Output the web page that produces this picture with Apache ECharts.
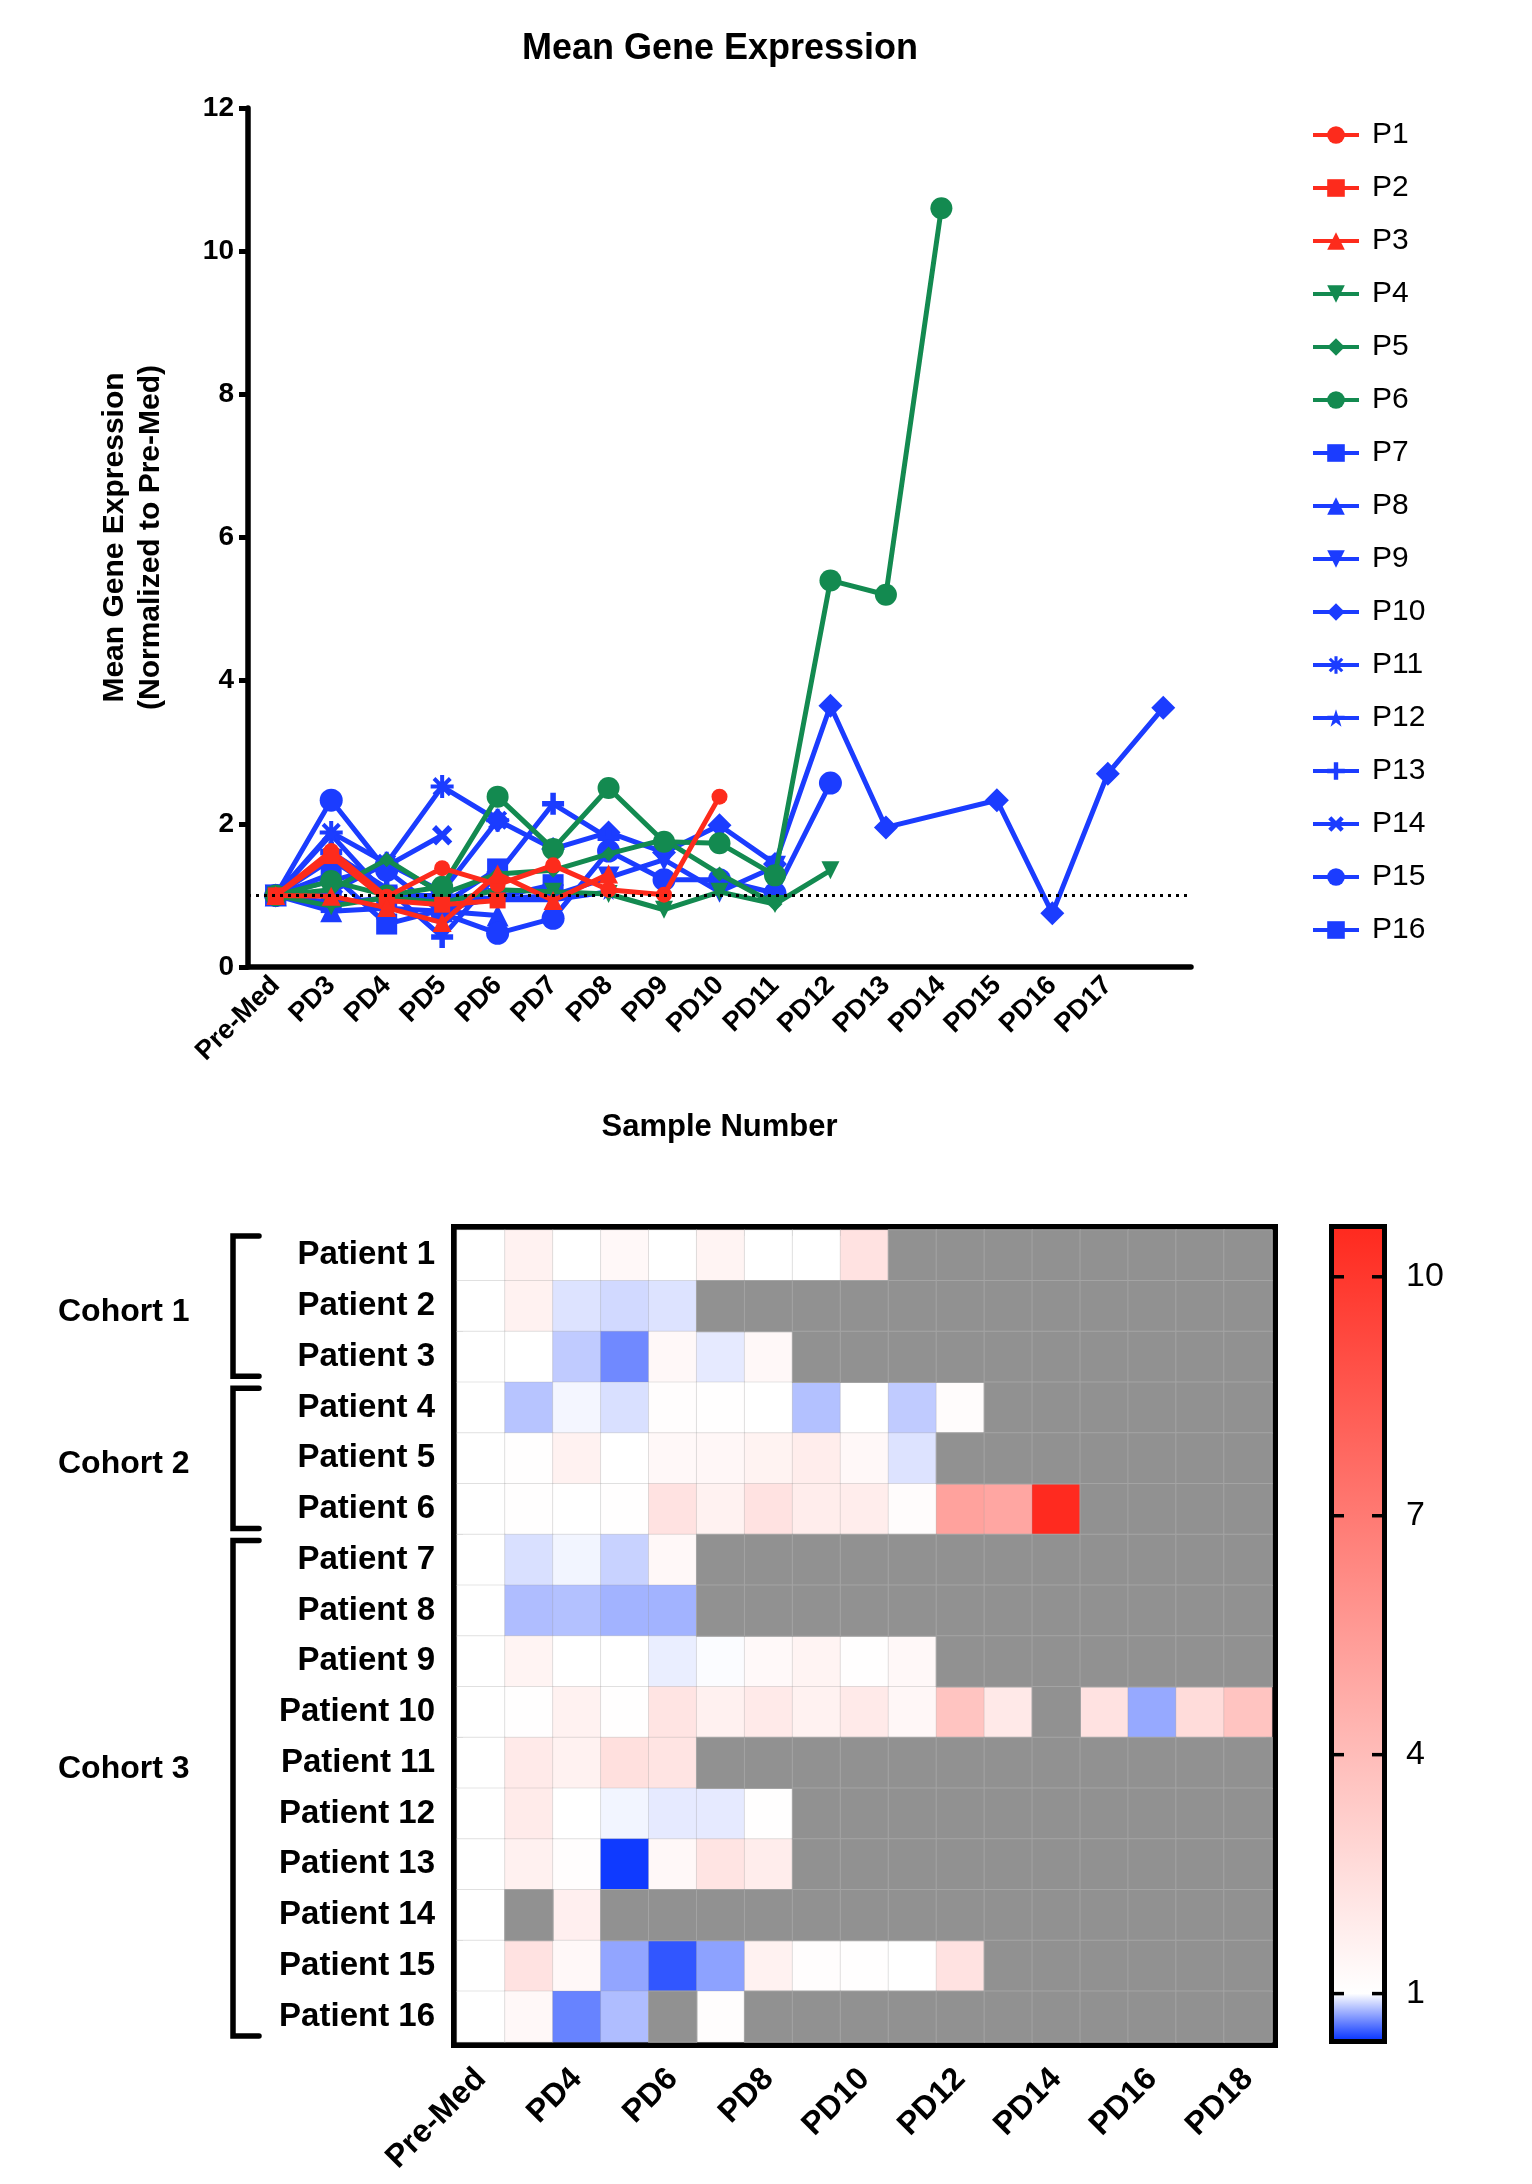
<!DOCTYPE html>
<html><head><meta charset="utf-8">
<script src="https://cdn.jsdelivr.net/npm/echarts@6/dist/echarts.min.js"></script>
<style>html,body{margin:0;padding:0;background:#fff}#c{width:1532px;height:2184px}</style>
</head><body><div id="c"></div>
<script>
// ---------------- DATA ----------------
const lineCategories = ['Pre-Med','PD3','PD4','PD5','PD6','PD7','PD8','PD9','PD10','PD11','PD12','PD13','PD14','PD15','PD16','PD17',''];
const heatCategories = ['Pre-Med','PD3','PD4','PD5','PD6','PD7','PD8','PD9','PD10','PD11','PD12','PD13','PD14','PD15','PD16','PD17','PD18'];
const seriesNames = ['P1','P2','P3','P4','P5','P6','P7','P8','P9','P10','P11','P12','P13','P14','P15','P16'];
const patients = ['Patient 1','Patient 2','Patient 3','Patient 4','Patient 5','Patient 6','Patient 7','Patient 8',
  'Patient 9','Patient 10','Patient 11','Patient 12','Patient 13','Patient 14','Patient 15','Patient 16'];
const yTicks = [0, 2, 4, 6, 8, 10, 12];
const baseline = 1;

// line chart values (mean expression normalised to Pre-Med)
const lineP1  = [1, 1.62, 0.98, 1.38, 1.15, 1.42, 1.08, 1.01, 2.38];
const lineP2  = [1, 1.55, 0.93, 0.87, 0.93];
const lineP3  = [1, 0.99, 0.83, 0.62, 1.3, 0.93, 1.3];
const lineP4  = [1, 0.85, 0.97, 0.9, 1.08, 1.05, 1.02, 0.8, 1.05, 0.88, 1.35];
const lineP5  = [1, 1.08, 1.5, 1.02, 1.3, 1.35, 1.58, 1.78, 1.3, 0.88];
const lineP6  = [1, 1.2, 1.0, 1.12, 2.38, 1.65, 2.5, 1.75, 1.73, 1.28, 5.4, 5.2, 10.6];
const lineP7  = [1, 0.9, 0.96, 0.87, 1.37];
const lineP8  = [1, 0.78, 0.82, 0.78, 0.72];
const lineP9  = [1, 1.5, 1.0, 1.0, 0.95, 1.0, 1.25, 1.5, 1.05, 1.4];
const lineP10 = [1, 1.05, 1.45, 1.05, 2.05, 1.65, 1.88, 1.6, 1.98, 1.44, 3.65, 1.95, null, 2.33, 0.75, 2.7, 3.62];
const lineP11 = [1, 1.88, 1.45, 2.52, 2.05];
const lineP12 = [1, 1.85, 1.0, 0.97, 0.94, 0.94, 1.05];
const lineP13 = [1, 1.6, 1.1, 0.42, 1.3, 2.28, 1.8];
const lineP14 = [1, null, 1.41, 1.84];
const lineP15 = [1, 2.33, 1.35, 0.75, 0.47, 0.68, 1.62, 1.22, 1.22, 1.03, 2.57];
const lineP16 = [1, 1.3, 0.6, 0.8, null, 1.15];

// heatmap values (null = no sample)
const heatP1  = [1, 1.6, 1.02, 1.3, 1.0, 1.5, 1.02, 1.02, 2.3];
const heatP2  = [1, 1.6, 0.92, 0.89, 0.92];
const heatP3  = [1, 1.0, 0.85, 0.66, 1.3, 0.94, 1.3];
const heatP4  = [1, 0.83, 0.975, 0.91, 1.1, 1.05, 1.0, 0.82, 1.0, 0.85, 1.15];
const heatP5  = [1, 1.05, 1.6, 1.0, 1.3, 1.35, 1.55, 1.8, 1.3, 0.92];
const heatP6  = [1, 1.05, 1.0, 1.03, 2.3, 1.6, 2.3, 1.8, 1.8, 1.15, 5.2, 5.0, 10.6];
const heatP7  = [1, 0.91, 0.97, 0.87, 1.3];
const heatP8  = [1, 0.81, 0.82, 0.78, 0.78];
const heatP9  = [1, 1.5, 1.0, 1.0, 0.95, 0.99, 1.25, 1.5, 1.05, 1.3];
const heatP10 = [1, 1.05, 1.6, 1.05, 2.2, 1.65, 1.95, 1.6, 1.95, 1.35, 3.65, 2.0, null, 2.3, 0.75, 2.6, 3.65];
const heatP11 = [1, 1.95, 1.6, 2.4, 2.2];
const heatP12 = [1, 1.9, 1.0, 0.97, 0.94, 0.94, 1.05];
const heatP13 = [1, 1.65, 1.1, 0.43, 1.3, 2.2, 1.8];
const heatP14 = [1, null, 1.7];
const heatP15 = [1, 2.3, 1.3, 0.74, 0.51, 0.73, 1.6, 1.1, 1.05, 1.02, 2.3];
const heatP16 = [1, 1.3, 0.64, 0.81, null, 1.1];

const colorbarRange = [0.43, 10.6];
const colorbarTicks = [1, 4, 7, 10];

const cohortNames = ['Cohort 1', 'Cohort 2', 'Cohort 3'];
const cohortFirstRow = [0, 3, 6];
const cohortLastRow = [2, 5, 15];
const cohortLabelRow = [1, 4, 10];

// ---------------- STYLE ----------------
const RED = '#fd2b1c', GREEN = '#138a50', BLUE = '#1b3cff';
const RED_END = [255, 42, 31], BLUE_END = [15, 58, 255];
const FONT = "'Liberation Sans', Arial, Helvetica, sans-serif";
const PLUS = 'path://M3,0H5V3H8V5H5V8H3V5H0V3H3Z';
const STAR = 'path://M5,0L6.18,3.5H10L6.9,5.7L8.1,9.5L5,7.2L1.9,9.5L3.1,5.7L0,3.5H3.82Z';
const ASTER = 'path://M3.3,0H4.7V3.3H8V4.7H4.7V8H3.3V4.7H0V3.3H3.3Z M6.333,0.677L7.323,1.667L4.99,4L7.323,6.333L6.333,7.323L4,4.99L1.667,7.323L0.677,6.333L3.01,4L0.677,1.667L1.667,0.677L4,3.01Z';
const styles = [
  {color: RED, symbol: 'circle', size: 16, z: 4},
  {color: RED, symbol: 'rect', size: 16, z: 4},
  {color: RED, symbol: 'triangle', size: 19, z: 4},
  {color: GREEN, symbol: 'triangle', size: 18, rotate: 180, z: 3},
  {color: GREEN, symbol: 'diamond', size: 15, z: 3},
  {color: GREEN, symbol: 'circle', size: 22, z: 3},
  {color: BLUE, symbol: 'rect', size: 21, z: 2},
  {color: BLUE, symbol: 'triangle', size: 22, z: 2},
  {color: BLUE, symbol: 'triangle', size: 22, rotate: 180, z: 2},
  {color: BLUE, symbol: 'diamond', size: 24, z: 2},
  {color: BLUE, symbol: ASTER, size: 23, z: 2},
  {color: BLUE, symbol: STAR, size: 17, z: 2},
  {color: BLUE, symbol: PLUS, size: 22, z: 2},
  {color: BLUE, symbol: PLUS, size: 23, rotate: 45, z: 2},
  {color: BLUE, symbol: 'circle', size: 23, z: 2},
  {color: BLUE, symbol: 'rect', size: 21, z: 2}
];

const lineData = [lineP1, lineP2, lineP3, lineP4, lineP5, lineP6, lineP7, lineP8,
  lineP9, lineP10, lineP11, lineP12, lineP13, lineP14, lineP15, lineP16];
const heatData = [heatP1, heatP2, heatP3, heatP4, heatP5, heatP6, heatP7, heatP8,
  heatP9, heatP10, heatP11, heatP12, heatP13, heatP14, heatP15, heatP16];

function mix(a, b, t) {
  return 'rgb(' + a.map((x, i) => Math.round(x + (b[i] - x) * t)).join(',') + ')';
}
function cellColor(v) {
  const lo = colorbarRange[0], hi = colorbarRange[1];
  if (v <= 1) return mix([255, 255, 255], BLUE_END, Math.min(1, (1 - v) / (1 - lo)));
  return mix([255, 255, 255], RED_END, Math.min(1, (v - 1) / (hi - 1)));
}

const cells = [], missing = [];
heatData.forEach((row, r) => {
  heatCategories.forEach((c, k) => {
    const v = row[k];
    if (typeof v === 'number') cells.push({value: [k, r, v], itemStyle: {color: cellColor(v)}});
    else missing.push([k, r, 0]);
  });
});

const series = seriesNames.map((name, i) => ({
  name: name, type: 'line', xAxisIndex: 0, yAxisIndex: 0,
  data: lineData[i], connectNulls: true,
  symbol: styles[i].symbol, symbolSize: styles[i].size, symbolRotate: styles[i].rotate || 0,
  symbolKeepAspect: true,
  lineStyle: {color: styles[i].color, width: 5},
  itemStyle: {color: styles[i].color},
  z: styles[i].z, emphasis: {disabled: true}
}));
series[9].markLine = {
  silent: true, symbol: 'none', label: {show: false},
  lineStyle: {type: [3, 5], width: 3, color: '#000'},
  data: [{yAxis: baseline}]
};
series.push({
  type: 'heatmap', xAxisIndex: 1, yAxisIndex: 1, data: cells,
  itemStyle: {borderColor: 'rgba(150,150,150,0.25)', borderWidth: 1},
  emphasis: {disabled: true}
});
series.push({
  type: 'heatmap', xAxisIndex: 1, yAxisIndex: 1, data: missing,
  itemStyle: {color: '#919191', borderColor: '#a4a4a4', borderWidth: 1},
  emphasis: {disabled: true}
});
// colour bar: gradient + inner ticks, drawn through the colour-bar axis scale
series.push({
  type: 'custom', xAxisIndex: 2, yAxisIndex: 2,
  data: [[0, colorbarRange[0], 1, colorbarRange[1]]],
  encode: {x: [0, 2], y: [1, 3]},
  renderItem: function (params, api) {
    const a = api.coord([api.value(0), api.value(3)]);
    const b = api.coord([api.value(2), api.value(1)]);
    const lo = colorbarRange[0], hi = colorbarRange[1];
    const children = [{
      type: 'rect',
      shape: {x: a[0], y: a[1], width: b[0] - a[0], height: b[1] - a[1]},
      style: {fill: new echarts.graphic.LinearGradient(0, 1, 0, 0, [
        {offset: 0, color: mix(BLUE_END, BLUE_END, 0)},
        {offset: (1 - lo) / (hi - lo), color: '#ffffff'},
        {offset: 1, color: mix(RED_END, RED_END, 0)}
      ])}
    }];
    colorbarTicks.forEach(t => {
      const y = api.coord([0, t])[1];
      children.push({type: 'line', shape: {x1: a[0], y1: y, x2: a[0] + 10, y2: y}, style: {stroke: '#000', lineWidth: 3.5}});
      children.push({type: 'line', shape: {x1: b[0] - 10, y1: y, x2: b[0], y2: y}, style: {stroke: '#000', lineWidth: 3.5}});
    });
    return {type: 'group', children: children};
  }
});

const axisBlack = {lineStyle: {color: '#000', width: 5.5}};
const option = {
  animation: false,
  backgroundColor: '#ffffff',
  title: {
    text: 'Mean Gene Expression', left: 720, top: 31, textAlign: 'center', padding: 0,
    textStyle: {fontFamily: FONT, fontSize: 36, fontWeight: 'bold', color: '#000'}
  },
  legend: {
    orient: 'vertical', left: 1306, top: 115,
    itemWidth: 46, itemHeight: 22, itemGap: 23,
    data: seriesNames,
    lineStyle: {width: 4},
    textStyle: {fontFamily: FONT, fontSize: 30, lineHeight: 30, color: '#000', padding: [0, 0, 0, 8]},
    selectedMode: false
  },
  grid: [
    {left: 248, top: 108, width: 943, height: 859},
    {left: 457, top: 1230, width: 815, height: 812, show: true, borderColor: '#000', borderWidth: 12, backgroundColor: 'rgba(0,0,0,0)'},
    {left: 1334, top: 1229, width: 48, height: 810, show: true, borderColor: '#000', borderWidth: 10, backgroundColor: 'rgba(0,0,0,0)'}
  ],
  xAxis: [
    {
      type: 'category', gridIndex: 0, data: lineCategories, boundaryGap: true,
      axisLine: axisBlack,
      axisTick: {alignWithLabel: true, length: 11, lineStyle: {color: '#000', width: 5},
        interval: function (index) { return index < lineCategories.length - 1; }},
      axisLabel: {interval: 0, rotate: 45, margin: 14, fontFamily: FONT, fontSize: 27, fontWeight: 'bold', color: '#000'},
      name: 'Sample Number', nameLocation: 'middle', nameGap: 145,
      nameTextStyle: {fontFamily: FONT, fontSize: 31, fontWeight: 'bold', color: '#000'}
    },
    {
      type: 'category', gridIndex: 1, data: heatCategories,
      axisLine: {show: false}, axisTick: {show: false}, splitLine: {show: false},
      axisLabel: {interval: 1, rotate: 45, margin: 32, fontFamily: FONT, fontSize: 32, fontWeight: 'bold', color: '#000'}
    },
    {type: 'value', gridIndex: 2, min: 0, max: 1, show: false}
  ],
  yAxis: [
    {
      type: 'value', gridIndex: 0, min: yTicks[0], max: yTicks[yTicks.length - 1], interval: 2,
      axisLine: {show: true, lineStyle: {color: '#000', width: 5.5}},
      axisTick: {show: true, length: 9, lineStyle: {color: '#000', width: 5}},
      splitLine: {show: false},
      axisLabel: {margin: 14, fontFamily: FONT, fontSize: 28, fontWeight: 'bold', color: '#000'},
      name: 'Mean Gene Expression\n(Normalized to Pre-Med)', nameLocation: 'middle', nameRotate: 90, nameGap: 79,
      nameTextStyle: {fontFamily: FONT, fontSize: 30, fontWeight: 'bold', color: '#000', lineHeight: 36}
    },
    {
      type: 'category', gridIndex: 1, data: patients, inverse: true,
      axisLine: {show: false}, axisTick: {show: false}, splitLine: {show: false},
      axisLabel: {margin: 22, fontFamily: FONT, fontSize: 33, fontWeight: 'bold', color: '#000'}
    },
    {
      type: 'value', gridIndex: 2, min: colorbarRange[0], max: colorbarRange[1], position: 'right',
      axisLine: {show: false}, splitLine: {show: false}, axisTick: {show: false},
      axisLabel: {customValues: colorbarTicks, margin: 24, fontFamily: FONT, fontSize: 34, color: '#000'}
    }
  ],
  series: series
};

const chart = echarts.init(document.getElementById('c'), null, {renderer: 'canvas'});
chart.setOption(option);

// cohort brackets and labels, positioned from the heatmap's own axis
const rc = r => chart.convertToPixel({gridIndex: 1}, [0, r])[1];
const rowH = rc(1) - rc(0);
const graphics = [];
cohortNames.forEach((name, i) => {
  const top = rc(cohortFirstRow[i]) - rowH / 2 + 6;
  const bot = rc(cohortLastRow[i]) + rowH / 2 - 6;
  graphics.push({
    type: 'polyline', silent: true,
    shape: {points: [[259, top], [233, top], [233, bot], [259, bot]]},
    style: {stroke: '#000', lineWidth: 5.5, fill: null, lineJoin: 'miter', lineCap: 'round'}
  });
  graphics.push({
    type: 'text', silent: true, x: 58, y: rc(cohortLabelRow[i]) + 6,
    style: {text: name, font: 'bold 32px ' + FONT, fill: '#000', verticalAlign: 'middle', align: 'left'}
  });
});
chart.setOption({graphic: graphics});
</script></body></html>
